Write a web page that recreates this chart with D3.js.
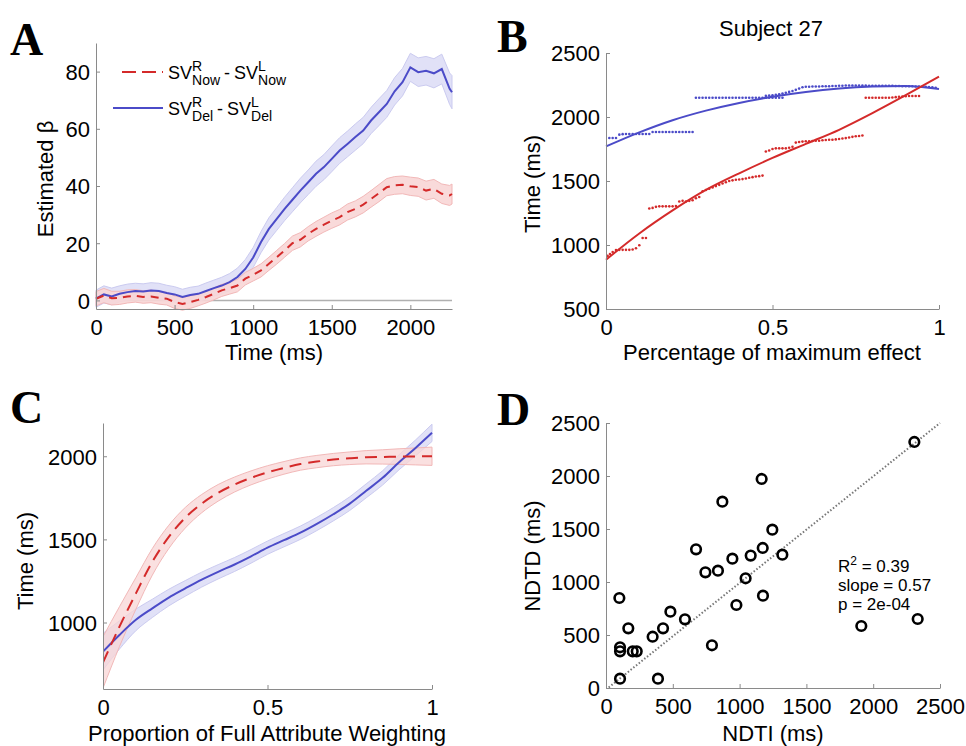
<!DOCTYPE html>
<html lang="en">
<head>
<meta charset="utf-8">
<style>
    body { margin: 0; background: #fff; }
    svg text { font-family: "Liberation Sans", Arial, sans-serif; fill: #000; }
    .axis path, .axis line { stroke: #8a8a8a; }
    .axis text { font-size: 22px; fill: #000; }
    .letter { font-family: "Liberation Serif", "Times New Roman", serif !important; font-weight: bold; font-size: 46px; }
    .lab { font-size: 22px; }
</style>
<script src="https://d3js.org/d3.v7.min.js"></script>
</head>
<body>
<svg width="966" height="746"></svg>
<script>

    // ---- panel A: estimated beta over time
    var timeA = [0,50,100,150,200,250,300,350,400,450,500,550,600,650,700,750,800,850,900,950,
        1000,1050,1100,1150,1200,1250,1300,1350,1400,1450,1500,1550,1600,1650,1700,1750,1800,1850,
        1900,1950,2000,2050,2100,2150,2200,2250,2265];
    var nowA = [0.6,1.7,0.8,0.9,1.4,1.6,1.2,1.4,0.9,0.6,-0.6,-1.2,-0.6,0.2,1.2,2.3,3.5,4.3,5.2,7.6,
        9.0,10.5,12.8,15.1,17.5,20.0,21.2,23.3,25.0,26.5,27.9,29.1,30.9,32.0,33.5,35.5,37.5,39.6,
        40.2,40.4,39.9,39.6,38.4,39.0,37.3,36.7,37.2];
    var nowSeA = [2.5,2.5,2.4,2.3,2.3,2.2,2.2,2.2,2.2,2.2,2.2,2.2,2.2,2.1,2.1,2.1,2.1,2.1,2.2,2.2,
        2.2,2.3,2.3,2.4,2.4,2.5,2.5,2.5,2.6,2.6,2.7,2.7,2.8,2.8,2.9,2.9,3.0,3.0,3.1,3.1,
        3.2,3.2,3.3,3.3,3.4,3.5,3.5];
    var delA = [0.6,2.1,1.4,2.3,2.9,3.3,3.1,3.5,3.3,2.6,2.1,1.2,1.9,2.3,3.3,4.3,5.2,6.4,8.2,11.0,
        15.0,20.4,25.0,28.5,32.0,35.2,38.4,41.3,44.3,46.6,49.5,52.4,54.7,57.1,59.4,62.9,65.8,68.7,
        73.1,76.3,81.5,79.8,80.3,79.4,80.9,74.0,72.8];
    var delSeA = [3.0,3.0,2.9,2.8,2.8,2.7,2.7,2.7,2.7,2.7,2.7,2.7,2.7,2.7,2.8,2.8,2.9,3.0,3.1,3.3,
        3.5,3.7,3.9,4.0,4.1,4.2,4.3,4.3,4.4,4.4,4.5,4.5,4.5,4.6,4.6,4.6,4.7,4.7,4.8,4.8,
        4.9,5.0,5.0,5.1,5.2,5.5,5.8];
    var xTicksA = [0,500,1000,1500,2000];
    var yTicksA = [0,20,40,60,80];

    // ---- panel B: subject 27
    var blueDotsB = [[0.01,1836],[0.02,1836],[0.03,1836],
        [0.04,1862],[0.05,1866],[0.06,1867],[0.07,1867],[0.08,1867],[0.09,1867],[0.10,1867],[0.11,1867],[0.12,1867],[0.13,1867],
        [0.14,1883],[0.15,1883],[0.16,1883],[0.17,1883],[0.18,1883],[0.19,1883],[0.20,1883],[0.21,1883],[0.22,1883],[0.23,1883],[0.24,1883],[0.25,1883],[0.26,1883],
        [0.27,2150],[0.28,2150],[0.29,2150],[0.30,2150],[0.31,2150],[0.32,2150],[0.33,2150],[0.34,2150],[0.35,2150],[0.36,2150],
        [0.37,2150],[0.38,2150],[0.39,2150],[0.40,2150],[0.41,2150],[0.42,2150],[0.43,2150],[0.44,2150],[0.45,2150],[0.46,2150],
        [0.47,2150],[0.48,2150],[0.49,2150],[0.50,2150],[0.51,2150],[0.52,2150],[0.53,2150],
        [0.48,2165],[0.49,2168],[0.50,2170],[0.51,2174],[0.52,2178],[0.53,2183],[0.54,2190],[0.55,2196],[0.56,2203],[0.57,2212],[0.58,2222],
        [0.59,2232],[0.60,2236],[0.61,2236],[0.62,2238],[0.63,2238],[0.64,2238],[0.65,2240],[0.66,2240],[0.67,2240],[0.68,2242],
        [0.69,2242],[0.70,2244],[0.71,2244],[0.72,2246],[0.73,2246],[0.74,2246],[0.75,2246],[0.76,2246],[0.77,2246],[0.78,2246],
        [0.79,2244],[0.80,2244],[0.81,2244],[0.82,2244],[0.83,2244],[0.84,2244],[0.85,2244],[0.86,2244],[0.87,2242],[0.88,2242],
        [0.89,2240],[0.90,2240],[0.91,2240],[0.92,2240],[0.93,2238],[0.94,2238],[0.95,2236],[0.96,2236],[0.97,2234],[0.98,2232],[0.99,2228]];
    var redDotsB = [[0.005,915],[0.012,930],[0.02,945],[0.03,960],[0.04,962],[0.05,962],[0.06,962],[0.07,962],[0.08,965],[0.09,975],
        [0.10,998],[0.11,1055],[0.12,1055],
        [0.13,1285],[0.14,1290],[0.15,1298],[0.16,1302],[0.17,1302],[0.18,1302],[0.19,1302],[0.20,1302],[0.21,1305],
        [0.22,1340],[0.23,1345],[0.24,1340],[0.25,1345],[0.26,1350],[0.27,1365],[0.28,1375],
        [0.29,1420],[0.30,1430],[0.31,1440],[0.32,1450],[0.33,1460],[0.34,1470],[0.35,1480],[0.36,1490],[0.37,1500],[0.38,1505],
        [0.39,1510],[0.40,1512],[0.41,1515],[0.42,1520],[0.43,1525],[0.44,1530],[0.45,1535],[0.46,1538],[0.47,1542],
        [0.48,1730],[0.49,1738],[0.50,1750],[0.51,1755],[0.52,1755],[0.53,1755],[0.54,1755],[0.55,1760],[0.56,1768],
        [0.57,1800],[0.58,1805],[0.59,1808],[0.60,1810],[0.61,1810],[0.62,1812],[0.63,1815],[0.64,1815],[0.65,1818],[0.66,1820],
        [0.67,1822],[0.68,1822],[0.69,1825],[0.70,1828],[0.71,1832],[0.72,1835],[0.73,1840],[0.74,1845],[0.75,1850],[0.76,1852],[0.77,1855],
        [0.78,2150],[0.79,2150],[0.80,2150],[0.81,2150],[0.82,2150],[0.83,2150],[0.84,2150],[0.85,2150],[0.86,2152],
        [0.87,2155],[0.88,2158],[0.89,2160],[0.90,2162],[0.91,2164],[0.92,2164],[0.93,2164],[0.94,2164]];
    var fitXB = [0,0.1,0.2,0.3,0.4,0.5,0.6,0.7,0.8,0.9,1.0];
    var blueFitB = [1770,1880,1975,2050,2110,2158,2195,2222,2238,2243,2218];
    var redFitB = [885,1090,1270,1430,1560,1680,1790,1900,2030,2170,2315];
    var xTicksB = [0,0.5,1];
    var yTicksB = [500,1000,1500,2000,2500];

    // ---- panel C: attribute weighting
    var xC = [0,0.05,0.1,0.15,0.2,0.25,0.3,0.35,0.4,0.45,0.5,0.55,0.6,0.65,0.7,0.75,0.8,0.85,0.9,0.95,1.0];
    var redC = [760,975,1175,1365,1515,1630,1715,1780,1830,1870,1903,1930,1953,1968,1980,1988,1994,1996,1998,1999,2000];
    var redSeC = [155,120,95,80,70,62,55,50,45,42,40,38,37,37,37,38,40,43,47,51,55];
    var blueC = [825,925,1016,1085,1150,1205,1258,1305,1349,1398,1450,1495,1540,1593,1651,1715,1792,1870,1964,2050,2141];
    var blueSeC = [110,85,65,55,50,47,45,43,42,41,40,40,40,40,40,41,42,43,45,48,52];
    var xTicksC = [0,0.5,1];
    var yTicksC = [1000,1500,2000];

    // ---- panel D: NDTI vs NDTD
    var ndti = [2308,1165,871,1245,674,1173,1320,946,1083,744,838,1045,100,1175,976,482,591,2333,1911,167,427,349,105,105,200,230,793,105,389];
    var ndtd = [2321,1972,1758,1494,1308,1321,1258,1220,1249,1091,1107,1035,849,871,783,720,648,651,585,563,563,484,384,346,346,346,403,88,88];
    var lineXD = [20,2500];
    var lineYD = [5,2500];
    var ticksD = [0,500,1000,1500,2000,2500];
    var statsD = ["= 0.39", "slope = 0.57", "p = 2e-04"];

    var RED = "#d42a2a", BLUE = "#4b4bc8";
    var RED_BAND = "#f8d6d6", BLUE_BAND = "#e1e1f7";

    var svg = d3.select("svg");

    function axes(g, x, y, xt, yt, fmtX, fmtY) {
        var ax = g.append("g").attr("class", "axis")
            .attr("transform", "translate(0," + y.range()[0] + ")")
            .call(d3.axisBottom(x).tickValues(xt).tickSize(-4).tickSizeOuter(0).tickPadding(10).tickFormat(fmtX));
        var ay = g.append("g").attr("class", "axis")
            .attr("transform", "translate(" + x.range()[0] + ",0)")
            .call(d3.axisLeft(y).tickValues(yt).tickSize(-4).tickSizeOuter(0).tickPadding(6).tickFormat(fmtY));
        ax.selectAll("text").attr("dy", "0.71em");
        ay.selectAll("text").attr("dy", "0.36em");
    }

    function ylabel(g, x, y, txt) {
        g.append("text").attr("class", "lab")
            .attr("transform", "translate(" + x + "," + y + ") rotate(-90)")
            .attr("text-anchor", "middle").text(txt);
    }
    function xlabel(g, x, y, txt) {
        g.append("text").attr("class", "lab").attr("x", x).attr("y", y)
            .attr("text-anchor", "middle").text(txt);
    }

    // SV with stacked super/subscript
    function texTerm(g, x, y, sup, sub) {
        var t = g.append("text").attr("x", x).attr("y", y).style("font-size", "18px").text("SV");
        var w = t.node().getComputedTextLength();
        var a = g.append("text").attr("x", x + w).attr("y", y - 8).style("font-size", "14px").text(sup);
        var b = g.append("text").attr("x", x + w).attr("y", y + 6).style("font-size", "14px").text(sub);
        return x + w + Math.max(a.node().getComputedTextLength(), b.node().getComputedTextLength());
    }
    function texLine(g, x, y, sub) {
        var nx = texTerm(g, x, y, "R", sub);
        var d = g.append("text").attr("x", nx + 4).attr("y", y).style("font-size", "18px").text("-");
        nx = nx + 4 + d.node().getComputedTextLength() + 4;
        texTerm(g, nx, y, "L", sub);
    }

    // ================= A
    var gA = svg.append("g");
    var xA = d3.scaleLinear().domain([0, 2265]).range([96, 452]);
    var yA = d3.scaleLinear().domain([-3, 90]).range([309, 43]);
    var rowsA = timeA.map(function(t, i) {
        return {t: t, now: nowA[i], nowSe: nowSeA[i], del: delA[i], delSe: delSeA[i]};
    });

    gA.append("line").attr("x1", xA(0)).attr("x2", xA(2265)).attr("y1", yA(0)).attr("y2", yA(0))
        .attr("stroke", "#b0b0b0").attr("stroke-width", 1.5);

    var bandA = function(k, s) {
        return d3.area().x(function(d) { return xA(d.t); })
            .y0(function(d) { return yA(d[k] - d[s]); })
            .y1(function(d) { return yA(d[k] + d[s]); });
    };
    var lineA = function(k) {
        return d3.line().x(function(d) { return xA(d.t); }).y(function(d) { return yA(d[k]); });
    };
    gA.append("path").datum(rowsA).attr("d", bandA("del", "delSe"))
        .attr("fill", BLUE_BAND).attr("stroke", "#cbcbf0").attr("stroke-width", 1);
    gA.append("path").datum(rowsA).attr("d", bandA("now", "nowSe"))
        .attr("fill", RED_BAND).attr("fill-opacity", 0.9).attr("stroke", "#f2b8b8").attr("stroke-width", 1);
    gA.append("path").datum(rowsA).attr("d", lineA("del"))
        .attr("fill", "none").attr("stroke", BLUE).attr("stroke-width", 2);
    gA.append("path").datum(rowsA).attr("d", lineA("now"))
        .attr("fill", "none").attr("stroke", RED).attr("stroke-width", 2).attr("stroke-dasharray", "8,6");

    axes(gA, xA, yA, xTicksA, yTicksA, d3.format("d"), d3.format("d"));
    xlabel(gA, 274, 360, "Time (ms)");
    ylabel(gA, 53, 179, "Estimated  \u03b2");

    // legend
    gA.append("line").attr("x1", 122).attr("x2", 163).attr("y1", 72).attr("y2", 72)
        .attr("stroke", RED).attr("stroke-width", 2).attr("stroke-dasharray", "14,6");
    texLine(gA, 168, 79, "Now");
    gA.append("line").attr("x1", 113).attr("x2", 163).attr("y1", 108).attr("y2", 108)
        .attr("stroke", BLUE).attr("stroke-width", 2);
    texLine(gA, 168, 115, "Del");

    // ================= B
    var gB = svg.append("g");
    var xB = d3.scaleLinear().domain([0, 1]).range([606, 939]);
    var yB = d3.scaleLinear().domain([500, 2500]).range([309, 53]);
    var fitLine = function(vals) {
        return d3.line().curve(d3.curveMonotoneX)
            .x(function(d, i) { return xB(fitXB[i]); })
            .y(function(d) { return yB(d); })(vals);
    };
    gB.selectAll(".bd").data(blueDotsB).enter().append("circle")
        .attr("cx", function(d) { return xB(d[0]); }).attr("cy", function(d) { return yB(d[1]); })
        .attr("r", 1.3).attr("fill", BLUE);
    gB.selectAll(".rd").data(redDotsB).enter().append("circle")
        .attr("cx", function(d) { return xB(d[0]); }).attr("cy", function(d) { return yB(d[1]); })
        .attr("r", 1.3).attr("fill", RED);
    gB.append("path").attr("d", fitLine(blueFitB)).attr("fill", "none").attr("stroke", BLUE).attr("stroke-width", 2);
    gB.append("path").attr("d", fitLine(redFitB)).attr("fill", "none").attr("stroke", RED).attr("stroke-width", 2);
    axes(gB, xB, yB, xTicksB, yTicksB, d3.format("~g"), d3.format("d"));
    xlabel(gB, 772, 360, "Percentage of maximum effect");
    ylabel(gB, 540, 184, "Time (ms)");
    gB.append("text").attr("class", "lab").attr("x", 771).attr("y", 36).attr("text-anchor", "middle").text("Subject 27");

    // ================= C
    var gC = svg.append("g");
    var xCs = d3.scaleLinear().domain([0, 1]).range([103, 432]);
    var yCs = d3.scaleLinear().domain([600, 2200]).range([689, 423]);
    gC.append("clipPath").attr("id", "clipC").append("rect")
        .attr("x", 103).attr("y", 400).attr("width", 340).attr("height", 289);
    var bandC = function(m, s) {
        return d3.area().curve(d3.curveMonotoneX)
            .x(function(d, i) { return xCs(xC[i]); })
            .y0(function(d, i) { return yCs(m[i] - s[i]); })
            .y1(function(d, i) { return yCs(m[i] + s[i]); })(xC);
    };
    var lineC = function(m) {
        return d3.line().curve(d3.curveMonotoneX)
            .x(function(d, i) { return xCs(xC[i]); })
            .y(function(d, i) { return yCs(m[i]); })(xC);
    };
    var pc = gC.append("g").attr("clip-path", "url(#clipC)");
    pc.append("path").attr("d", bandC(blueC, blueSeC)).attr("fill", BLUE_BAND).attr("stroke", "#cbcbf0");
    pc.append("path").attr("d", bandC(redC, redSeC)).attr("fill", RED_BAND).attr("fill-opacity", 0.75).attr("stroke", "#f2b8b8");
    pc.append("path").attr("d", lineC(blueC)).attr("fill", "none").attr("stroke", BLUE).attr("stroke-width", 2);
    pc.append("path").attr("d", lineC(redC)).attr("fill", "none").attr("stroke", RED).attr("stroke-width", 2)
        .attr("stroke-dasharray", "12,7");
    axes(gC, xCs, yCs, xTicksC, yTicksC, d3.format("~g"), d3.format("d"));
    xlabel(gC, 267, 741, "Proportion of Full Attribute Weighting");
    ylabel(gC, 33, 561, "Time (ms)");

    // ================= D
    var gD = svg.append("g");
    var xD = d3.scaleLinear().domain([0, 2500]).range([606, 940]);
    var yD = d3.scaleLinear().domain([0, 2500]).range([688, 423]);
    gD.append("line").attr("x1", xD(lineXD[0])).attr("x2", xD(lineXD[1]))
        .attr("y1", yD(lineYD[0])).attr("y2", yD(lineYD[1]))
        .attr("stroke", "#777").attr("stroke-width", 2).attr("stroke-dasharray", "1.5,2");
    gD.selectAll(".pt").data(ndti).enter().append("circle")
        .attr("cx", function(d) { return xD(d); })
        .attr("cy", function(d, i) { return yD(ndtd[i]); })
        .attr("r", 4.8).attr("fill", "none").attr("stroke", "#000").attr("stroke-width", 2.6);
    axes(gD, xD, yD, ticksD, ticksD, d3.format("d"), d3.format("d"));
    xlabel(gD, 773, 741, "NDTI (ms)");
    ylabel(gD, 540, 556, "NDTD (ms)");
    var st = gD.append("text").attr("x", 838).attr("y", 572).style("font-size", "17px");
    st.append("tspan").text("R");
    st.append("tspan").attr("dy", -7).style("font-size", "12px").text("2");
    st.append("tspan").attr("dy", 7).text(" " + statsD[0]);
    gD.append("text").attr("x", 838).attr("y", 591).style("font-size", "17px").text(statsD[1]);
    gD.append("text").attr("x", 838).attr("y", 610).style("font-size", "17px").text(statsD[2]);

    // panel letters
    var letters = [["A", 10, 55], ["B", 497, 52], ["C", 10, 423], ["D", 497, 425]];
    svg.selectAll(".letter").data(letters).enter().append("text").attr("class", "letter")
        .attr("x", function(d) { return d[1]; }).attr("y", function(d) { return d[2]; })
        .text(function(d) { return d[0]; });
</script>
</body>
</html>
